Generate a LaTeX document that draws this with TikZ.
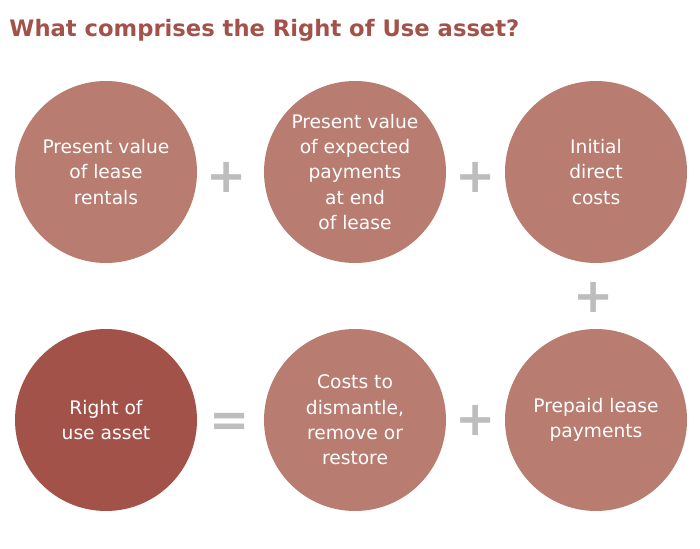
\documentclass[tikz,border=0pt]{standalone}
\usepackage{fontspec}
\setmainfont{DejaVu Sans}
\definecolor{lightrose}{HTML}{B97C70}
\definecolor{darkrose}{HTML}{A3524A}
\definecolor{signgray}{HTML}{BDBDBD}
\tikzset{every picture/.style={line width=0.75pt}}
\tikzset{
  part/.style={circle,fill=lightrose,minimum size=136.5pt,inner sep=0pt,text=white,align=center,font=\fontsize{14}{19}\selectfont},
  sign/.style={text=signgray,font=\fontsize{36}{36}\selectfont\bfseries,inner sep=0pt}
}
\begin{document}
\begin{tikzpicture}[x=0.75pt,y=0.75pt,yscale=-1,xscale=1]
    \useasboundingbox (0,0) rectangle (700,549);
    
    % Title
    \draw (8,30) node [anchor=west][inner sep=0.75pt] (title) {\fontsize{17}{20}\selectfont\bfseries\color{darkrose}What comprises the Right of Use asset?};
    
    % Circles, top row
    \node [part] (rentals) at (106,172) {Present value\\of lease\\rentals};
    \node [part] (expected) at (355,172) {Present value\\of expected\\payments\\at end\\of lease};
    \node [part] (initial) at (596,172) {Initial\\direct\\costs};
    % Circles, bottom row
    \node [part,fill=darkrose] (asset) at (106,420) {Right of\\use asset};
    \node [part] (dismantle) at (355,420) {Costs to\\dismantle,\\remove or\\restore};
    \node [part] (prepaid) at (596,420) {Prepaid lease\\payments};
    
    % Signs
    \node [sign] (p1) at (227,177) {+};
    \node [sign] (p2) at (476,177) {+};
    \node [sign] (p3) at (594,297) {+};
    \node [sign] (p4) at (476,420) {+};
    \node [sign] (eq) at (230,425) {=};
    
\end{tikzpicture}
\end{document}
